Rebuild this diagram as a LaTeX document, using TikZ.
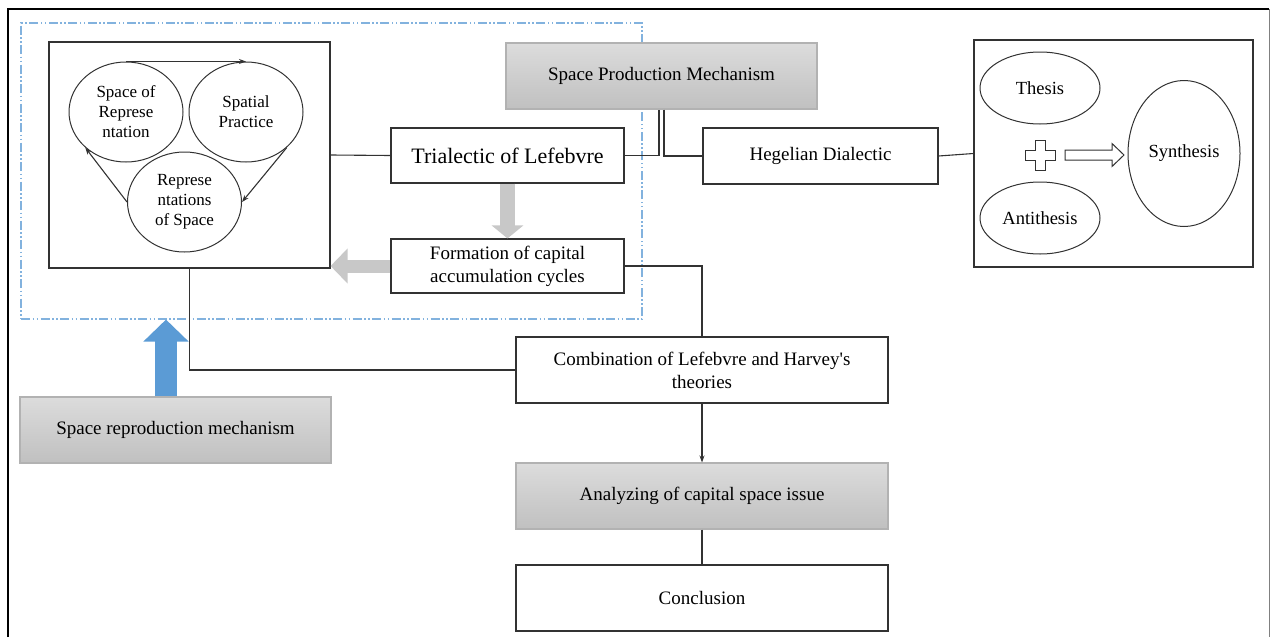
\documentclass[tikz,border=0pt]{standalone}
\usepackage{fontspec}
\setmainfont{Liberation Serif}
\usetikzlibrary{shapes.geometric,arrows.meta}
\definecolor{boxline}{RGB}{50,50,50}
\definecolor{graytop}{RGB}{220,220,220}
\definecolor{graybot}{RGB}{192,192,192}
\definecolor{grayedge}{RGB}{178,178,178}
\definecolor{dashblue}{RGB}{130,178,222}
\definecolor{arrowblue}{RGB}{91,155,213}
\definecolor{blockgray}{RGB}{200,200,200}
\tikzstyle{arrow} = [-{Stealth[length=7pt,width=5pt]}]
\tikzstyle{box} = [draw=boxline,line width=1.1pt,inner sep=0pt,align=center,font=\fontsize{19}{23}\selectfont]
\tikzstyle{graybox} = [box,draw=grayedge,top color=graytop,bottom color=graybot]
\tikzstyle{oval} = [draw=boxline,line width=1pt,ellipse,inner sep=0pt,align=center,font=\fontsize{17}{20}\selectfont]
\tikzstyle{link} = [draw=boxline,line width=1.1pt]

\begin{document}
\begin{tikzpicture}[x=1pt,y=-1pt]
        \useasboundingbox (0,0) rectangle (1271,637);
        \draw[line width=2.6pt] (8,637) -- (8,9) -- (1269,9);
        \draw[gray,line width=1pt] (1269,9) -- (1269,637);
        \node[draw=dashblue, line width=1.1pt, dash pattern=on 9pt off 2.5pt on 1.5pt off 2.5pt on 1.5pt off 2.5pt,
              minimum width=621pt, minimum height=296pt, inner sep=0pt] (region) at (331.5,171) {};

        \node[box, minimum width=281pt, minimum height=226pt] (trialbox) at (189.5,155) {};
        \node[oval, minimum width=114pt, minimum height=100pt] (sor) at (126,112) {Space of\\Represe\\ntation};
        \node[oval, minimum width=114pt, minimum height=100pt] (sp) at (246,112) {Spatial\\Practice};
        \node[oval, minimum width=114pt, minimum height=100pt] (ros) at (184.5,202) {Represe\\ntations\\of Space};
        \draw[link, arrow] (sor.north) -- (sp.north);
        \draw[link, arrow] (sp.south east) -- (ros.east);
        \draw[link, arrow] (ros.west) -- (sor.south west);

        \node[box, minimum width=233pt, minimum height=55pt, font=\fontsize{22}{26}\selectfont] (trial) at (507.5,155.5) {Trialectic of Lefebvre};
        \node[box, minimum width=233pt, minimum height=54pt] (form) at (507.5,266) {Formation of capital\\accumulation cycles};
        \node[graybox, minimum width=311pt, minimum height=66pt] (spm) at (661.5,76) {Space Production Mechanism};
        \node[box, minimum width=235pt, minimum height=56pt] (hegel) at (820.5,156) {Hegelian Dialectic};

        \node[box, minimum width=279pt, minimum height=227pt] (dial) at (1113.5,153.5) {};
        \node[oval, font=\fontsize{18.5}{22}\selectfont, minimum width=120pt, minimum height=72pt] (thesis) at (1040,88) {Thesis};
        \node[oval, font=\fontsize{18.5}{22}\selectfont, minimum width=120pt, minimum height=72pt] (anti) at (1040,218) {Antithesis};
        \node[oval, font=\fontsize{18.5}{22}\selectfont, minimum width=112pt, minimum height=146pt] (synth) at (1184,153.5) {Synthesis};
        \coordinate (plus) at (1040,155);
        \draw[draw=boxline, line width=1pt, fill=white] (plus) ++(-5,-15) -- ++(10,0) -- ++(0,10) -- ++(10,0) -- ++(0,10) -- ++(-10,0)
              -- ++(0,10) -- ++(-10,0) -- ++(0,-10) -- ++(-10,0) -- ++(0,-10) -- ++(10,0) -- cycle;
        \draw[draw=boxline, line width=1pt, fill=white] (plus) ++(25,-5) -- ++(47,0) -- ++(0,-6.5) -- ++(12,11.5) -- ++(-12,11.5)
              -- ++(0,-6.5) -- ++(-47,0) -- cycle;

        \node[box, minimum width=372pt, minimum height=66pt] (comb) at (702,370) {Combination of Lefebvre and Harvey\textquotesingle s\\theories};
        \node[graybox, minimum width=372pt, minimum height=66pt] (anal) at (702,496) {Analyzing of capital space issue};
        \node[box, minimum width=372pt, minimum height=66pt] (concl) at (702,598) {Conclusion};
        \node[graybox, minimum width=311pt, minimum height=66pt] (repro) at (175.5,430) {Space reproduction mechanism};

        \draw[link] (trialbox.east) -- (trial.west);
        \draw[link] (trial.east) -| ([xshift=-2.5pt]spm.south);
        \draw[link] ([xshift=2.5pt]spm.south) |- (hegel.west);
        \draw[link] (hegel.east) -- (dial.west);
        \draw[link] (form.east) -| (comb.north);
        \draw[link] (trialbox.south) |- (comb.west);
        \draw[link, arrow] (comb.south) -- (anal.north);
        \draw[link] (anal.south) -- (concl.north);

        \draw[blockgray, line width=15pt, -{Triangle[length=13pt,width=31pt]}] (trial.south) -- (form.north);
        \draw[blockgray, line width=13pt, -{Triangle[length=17pt,width=34pt]}] (form.west) -- (form.west -| trialbox.east);
        \draw[arrowblue, line width=22pt, -{Triangle[length=22pt,width=44pt]}] ([xshift=-9.5pt]repro.north) -- ([xshift=-9.5pt]repro.north |- region.south);
\end{tikzpicture}
\end{document}
